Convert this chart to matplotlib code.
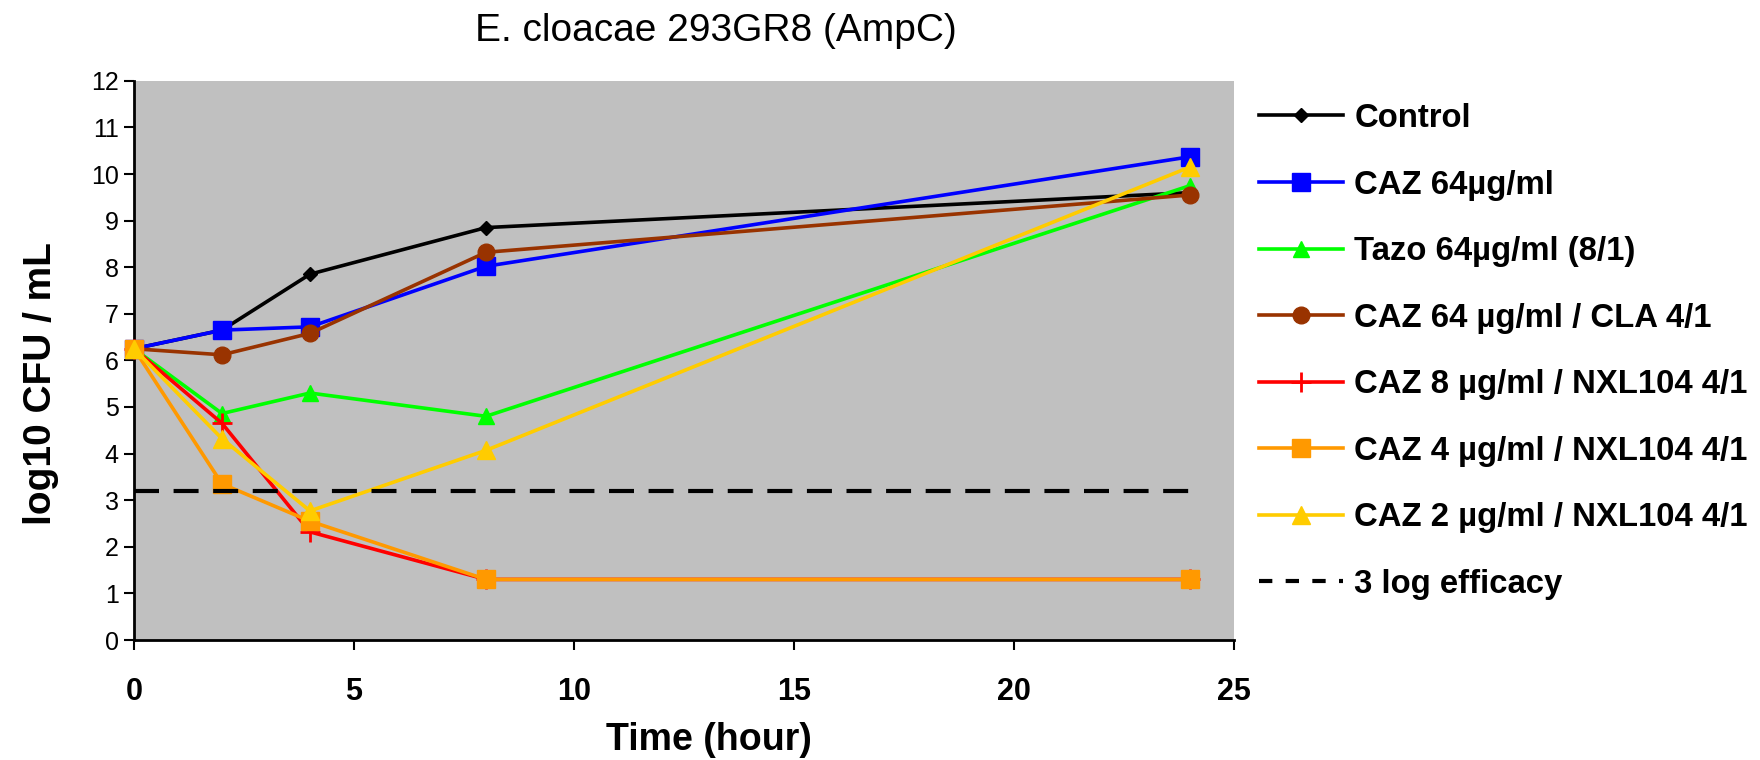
"""
Time-kill curves, E. cloacae 293GR8 (AmpC)
"""
import matplotlib
matplotlib.use("Agg")
import matplotlib.pyplot as plt

plt.rcParams['font.family'] = ['Liberation Sans', 'DejaVu Sans']

# sampling times (hours)
time_h = [0, 2, 4, 8, 24]

# log10 CFU / mL
control = [6.25, 6.65, 7.85, 8.85, 9.6]
caz64 = [6.25, 6.65, 6.72, 8.02, 10.37]
tazo64 = [6.25, 4.86, 5.3, 4.8, 9.75]
caz64_cla = [6.25, 6.12, 6.58, 8.32, 9.55]
caz8_nxl = [6.25, 4.65, 2.32, 1.3, 1.3]
caz4_nxl = [6.25, 3.35, 2.55, 1.3, 1.3]
caz2_nxl = [6.25, 4.32, 2.77, 4.07, 10.15]

efficacy_level = 3.2
efficacy_span = [0, 24]

labels = ['Control', 'CAZ 64µg/ml', 'Tazo 64µg/ml (8/1)', 'CAZ 64 µg/ml / CLA 4/1',
          'CAZ 8 µg/ml / NXL104 4/1', 'CAZ 4 µg/ml / NXL104 4/1',
          'CAZ 2 µg/ml / NXL104 4/1', '3 log efficacy']

series = [control, caz64, tazo64, caz64_cla, caz8_nxl, caz4_nxl, caz2_nxl]
colors = ['#000000', '#0000FF', '#00FF00', '#993300', '#FF0000', '#FF9900', '#FFCC00']
markers = ['D', 's', '^', 'o', '+', 's', '^']
msizes = [7, 13, 12, 12, 14, 13, 13]

fig = plt.figure(figsize=(17.6, 7.6), dpi=100)
ax = fig.add_axes([134 / 1760, 120 / 760, 1100 / 1760, 559.2 / 760])
ax.set_facecolor('#C0C0C0')

for vals, col, mk, ms, lab in zip(series, colors, markers, msizes, labels):
    ax.plot(time_h, vals, color=col, marker=mk, markersize=ms, lw=2.6,
            markeredgewidth=2 if mk == '+' else 1, markeredgecolor=col,
            label=lab, clip_on=False, zorder=3)

ax.plot(efficacy_span, [efficacy_level, efficacy_level], color='black', lw=3,
        dashes=(6, 3.5), label=labels[-1], zorder=3)

ax.set_xlim(0, 25)
ax.set_ylim(0, 12)
ax.set_xticks(range(0, 26, 5))
ax.set_yticks(range(0, 13))

for s in ['top', 'right']:
    ax.spines[s].set_visible(False)
for s in ['left', 'bottom']:
    ax.spines[s].set_linewidth(2)
    ax.spines[s].set_zorder(2)

ax.tick_params(axis='y', direction='out', length=7, width=1.5, labelsize=18, pad=4)
ax.tick_params(axis='x', direction='out', length=7, width=1.5, labelsize=22, pad=20)
for t in ax.get_xticklabels():
    t.set_fontweight('bold')

ax.set_xlabel('Time (hour)', fontsize=27, fontweight='bold', va='center')
ax.xaxis.set_label_coords(0.5227, -0.178)
ax.set_ylabel('log10 CFU / mL', fontsize=28, fontweight='bold', va='center')
ax.yaxis.set_label_coords(-0.0845, 0.458)

ax.set_title('E. cloacae 293GR8 (AmpC)', fontsize=28, x=0.529, y=1.075, va='center')

leg = ax.legend(loc='upper left', bbox_to_anchor=(1259 / 1760, 1 - 103 / 760),
                bbox_transform=fig.transFigure, frameon=False, numpoints=1,
                prop={'size': 23.7, 'weight': 'bold'}, handlelength=2.55,
                handletextpad=0.35, labelspacing=1.08, borderpad=0, borderaxespad=0)
leg.get_lines()[-1].set_dashes((3.2, 3.2))

fig.savefig('out.png', dpi=100)
